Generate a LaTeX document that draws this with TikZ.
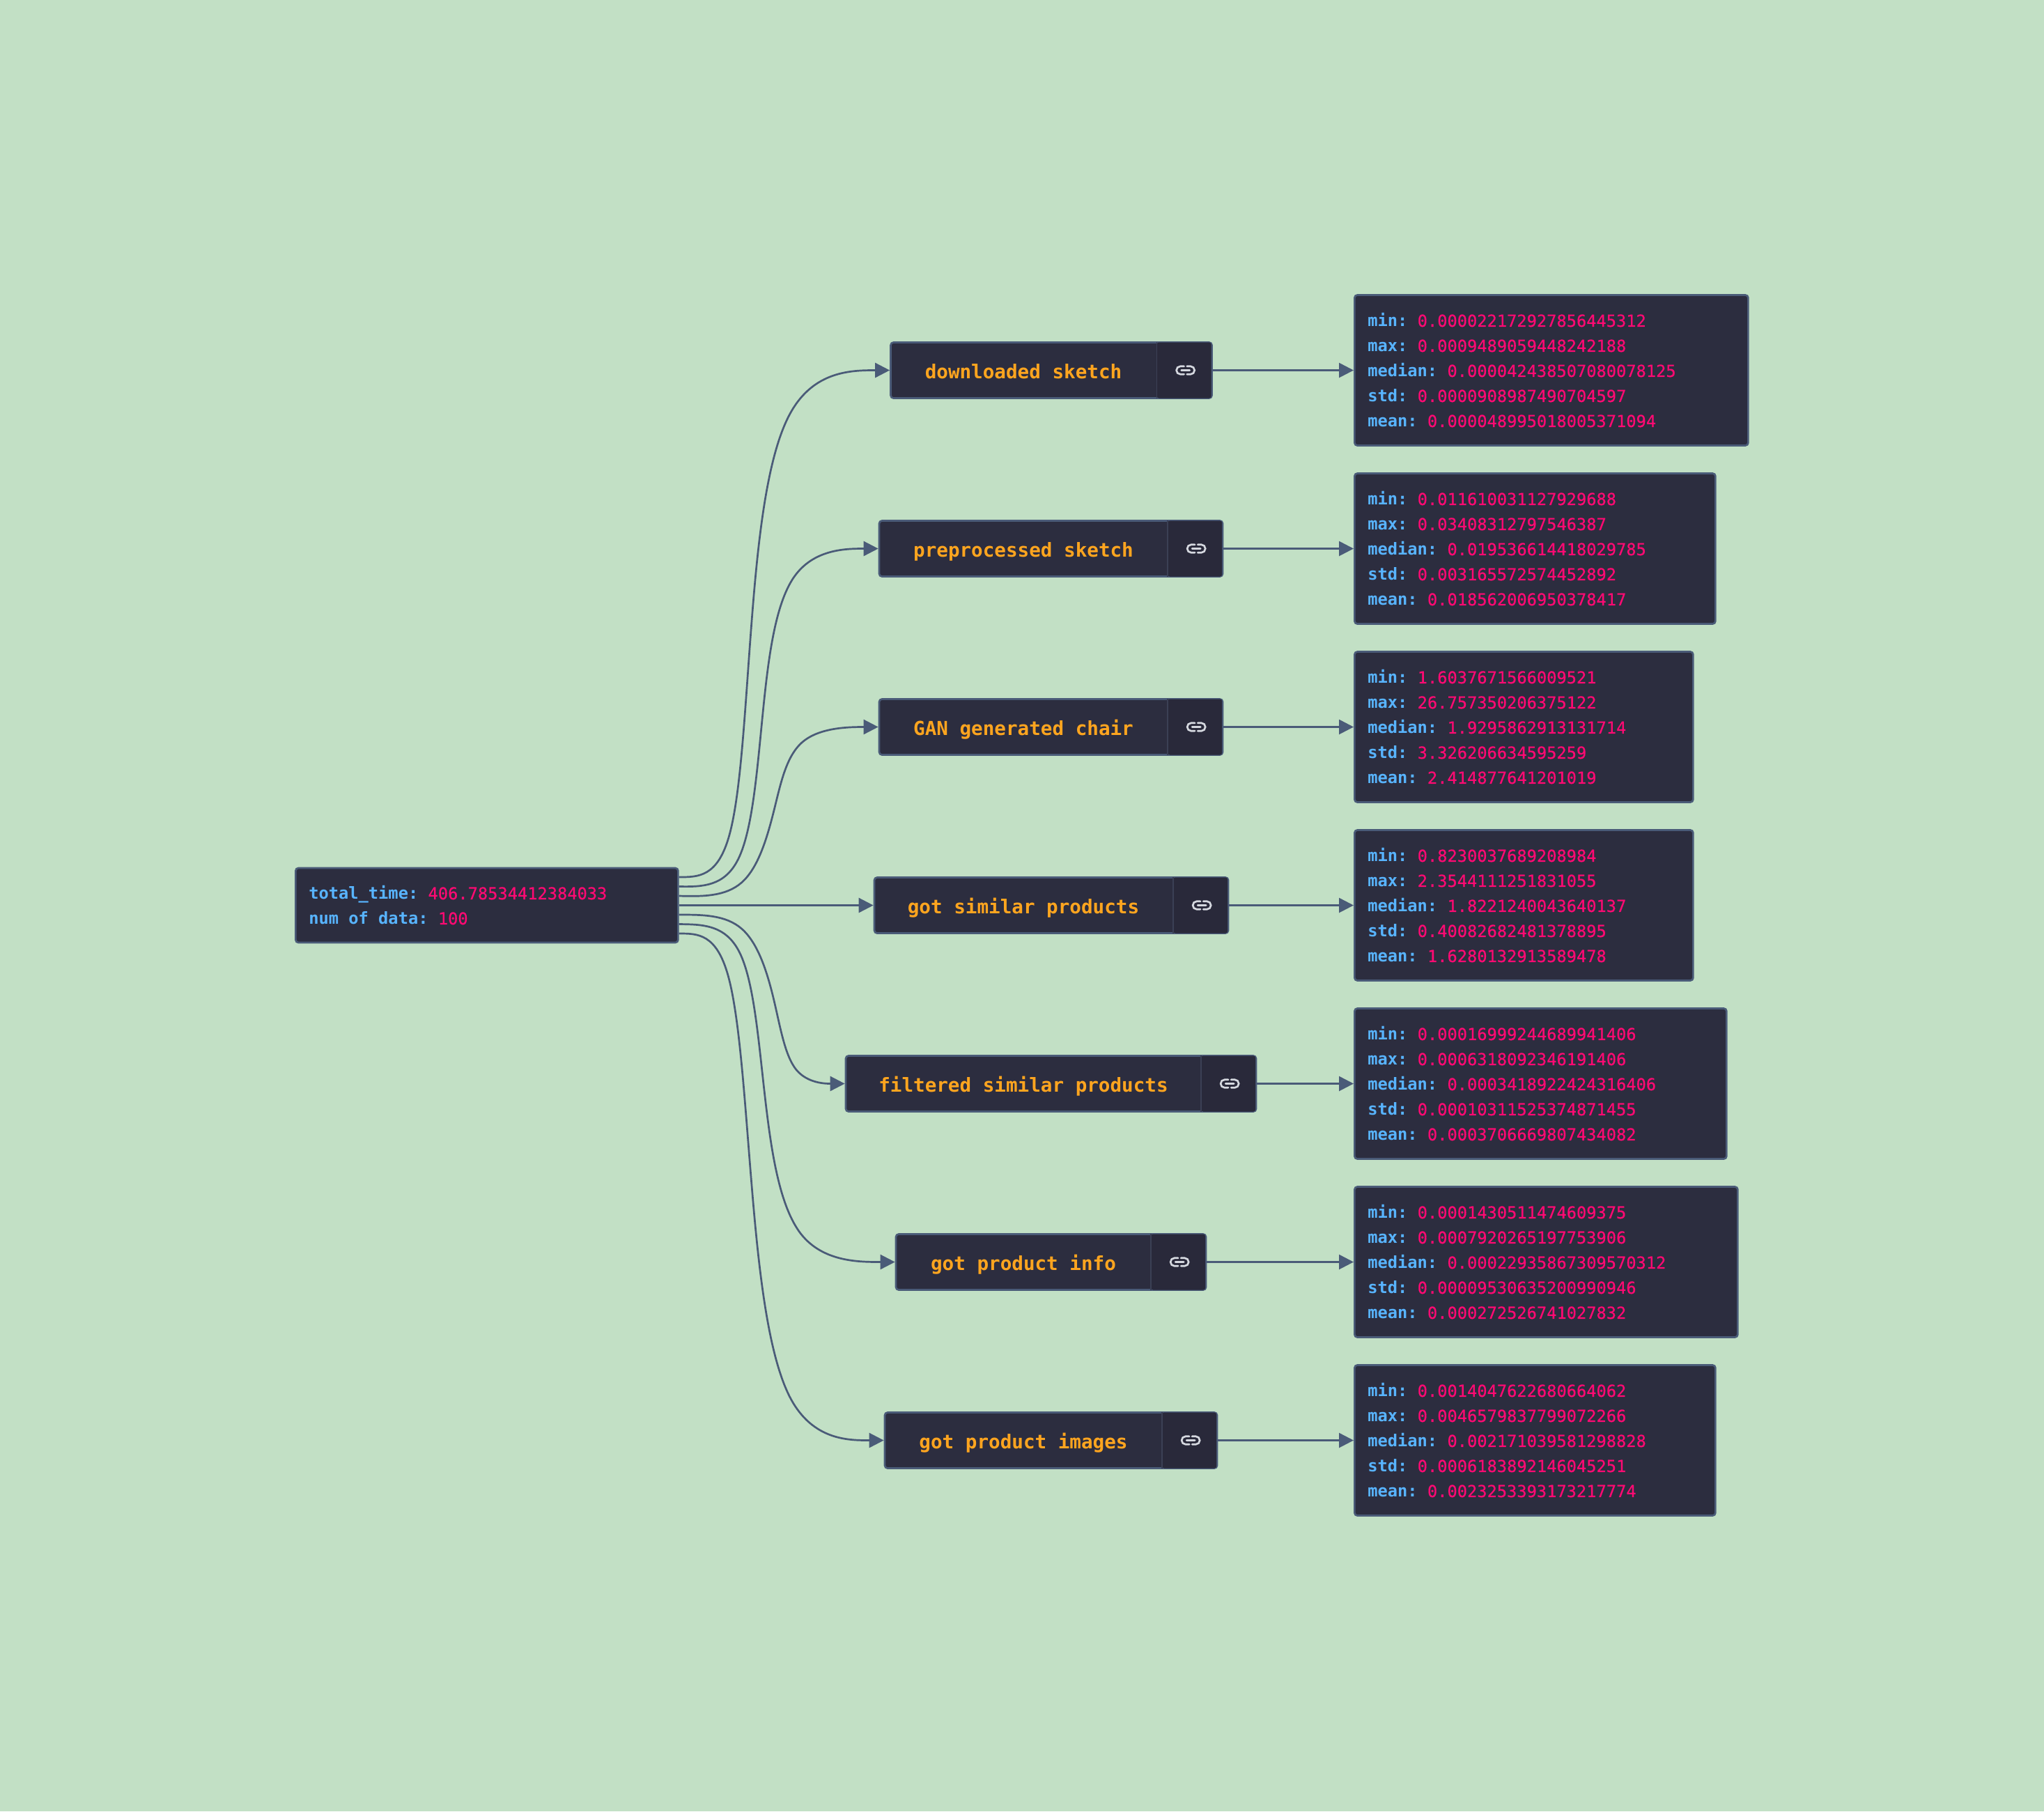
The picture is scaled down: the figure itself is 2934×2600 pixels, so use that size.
\documentclass[tikz,border=0pt]{standalone}
\usepackage{fontspec}
\setmainfont{DejaVu Sans Mono}
\newfontfamily\valuefont[FakeBold=0.4]{DejaVu Sans Mono}
\usetikzlibrary{arrows.meta}
\definecolor{canvas}{HTML}{C2E0C5}
\definecolor{panel}{HTML}{2C2D3F}
\definecolor{cellshade}{HTML}{29293A}
\definecolor{edgeline}{HTML}{4A5B78}
\definecolor{cellline}{HTML}{3B4055}
\definecolor{keyblue}{HTML}{58B4FF}
\definecolor{valuepink}{HTML}{FF0A73}
\definecolor{stageorange}{HTML}{FFA51F}
\definecolor{iconline}{HTML}{D5D8DF}
\newcommand{\statline}[2]{\spaceskip=.602em\xspaceskip=.602em{\bfseries\color{keyblue}#1:} {\valuefont\color{valuepink}#2}}
\tikzset{
	panelbox/.style={draw=edgeline, line width=2.7pt, fill=panel, rounded corners=4pt, inner sep=0pt},
	statbox/.style={panelbox, anchor=west, inner xsep=19pt, minimum height=216pt, align=left, font=\fontsize{23.7}{36}\selectfont},
	rootbox/.style={statbox, minimum height=107pt},
	stagebox/.style={panelbox, minimum height=80pt},
	stagetext/.style={text=stageorange, inner sep=0pt, anchor=base, font=\fontsize{27.6}{32}\selectfont\bfseries},
	stagelink/.style={anchor=east, xshift=-2pt, fill=cellshade, rounded corners=3pt, inner sep=0pt, minimum width=78pt, minimum height=80pt,
		path picture={
			\begin{scope}[shift={(path picture bounding box.center)}, draw=iconline, line width=2.7pt, line cap=round]
				\draw[rounded corners=5.6pt] (0,-5.7) -- (-11,-5.7) -- (-11,5.7) -- (0,5.7);
				\draw[rounded corners=5.6pt] (4,-5.7) -- (15,-5.7) -- (15,5.7) -- (4,5.7);
				\draw (-4,0) -- (8,0);
			\end{scope}
		}},
	stagedivider/.style={draw=cellline, line width=1.6pt},
	flow/.style={draw=edgeline, line width=2.7pt, -{Triangle[length=21pt, width=21pt]}}
}

\begin{document}
\begin{tikzpicture}[x=1pt, y=-1pt]
	% Canvas
	\fill[canvas] (0,0) rectangle (2934,2600);
	\useasboundingbox (0,0) rectangle (2934,2600);

	% Summary box
	\node[rootbox, text width=511pt] (root) at (423,1299.5) {\statline{total\_time}{406.78534412384033}\\\statline{num of data}{100}};

	% Stages
	\node[stagebox, minimum width=461pt] (sketch) at (1509,531.5) {};
	\node[stagetext] (sketchtext) at (1469,543.5) {downloaded sketch};
	\node[stagelink] (sketchlink) at (sketch.east) {};
	\draw[stagedivider] (sketchlink.north west) -- (sketchlink.south west);

	\node[stagebox, minimum width=493pt] (preprocessed) at (1508.5,787.5) {};
	\node[stagetext] (preprocessedtext) at (1469,799.5) {preprocessed sketch};
	\node[stagelink] (preprocessedlink) at (preprocessed.east) {};
	\draw[stagedivider] (preprocessedlink.north west) -- (preprocessedlink.south west);

	\node[stagebox, minimum width=493pt] (gan) at (1508.5,1043.5) {};
	\node[stagetext] (gantext) at (1469,1055.5) {GAN generated chair};
	\node[stagelink] (ganlink) at (gan.east) {};
	\draw[stagedivider] (ganlink.north west) -- (ganlink.south west);

	\node[stagebox, minimum width=508pt] (similar) at (1509,1299.5) {};
	\node[stagetext] (similartext) at (1469,1311.5) {got similar products};
	\node[stagelink] (similarlink) at (similar.east) {};
	\draw[stagedivider] (similarlink.north west) -- (similarlink.south west);

	\node[stagebox, minimum width=589pt] (filtered) at (1508.5,1555.5) {};
	\node[stagetext] (filteredtext) at (1469,1567.5) {filtered similar products};
	\node[stagelink] (filteredlink) at (filtered.east) {};
	\draw[stagedivider] (filteredlink.north west) -- (filteredlink.south west);

	\node[stagebox, minimum width=445pt] (info) at (1508.5,1811.5) {};
	\node[stagetext] (infotext) at (1469,1823.5) {got product info};
	\node[stagelink] (infolink) at (info.east) {};
	\draw[stagedivider] (infolink.north west) -- (infolink.south west);

	\node[stagebox, minimum width=477pt] (images) at (1508.5,2067.5) {};
	\node[stagetext] (imagestext) at (1469,2079.5) {got product images};
	\node[stagelink] (imageslink) at (images.east) {};
	\draw[stagedivider] (imageslink.north west) -- (imageslink.south west);

	% Timing boxes
	\node[statbox, text width=527pt] (sketchstats) at (1943,531.5) {\statline{min}{0.000022172927856445312}\\\statline{max}{0.0009489059448242188}\\\statline{median}{0.000042438507080078125}\\\statline{std}{0.0000908987490704597}\\\statline{mean}{0.000048995018005371094}};
	\node[statbox, text width=480pt] (preprocessedstats) at (1943,787.5) {\statline{min}{0.011610031127929688}\\\statline{max}{0.03408312797546387}\\\statline{median}{0.019536614418029785}\\\statline{std}{0.003165572574452892}\\\statline{mean}{0.018562006950378417}};
	\node[statbox, text width=448pt] (ganstats) at (1943,1043.5) {\statline{min}{1.6037671566009521}\\\statline{max}{26.757350206375122}\\\statline{median}{1.9295862913131714}\\\statline{std}{3.326206634595259}\\\statline{mean}{2.414877641201019}};
	\node[statbox, text width=448pt] (similarstats) at (1943,1299.5) {\statline{min}{0.8230037689208984}\\\statline{max}{2.3544111251831055}\\\statline{median}{1.8221240043640137}\\\statline{std}{0.40082682481378895}\\\statline{mean}{1.6280132913589478}};
	\node[statbox, text width=496pt] (filteredstats) at (1943,1555.5) {\statline{min}{0.00016999244689941406}\\\statline{max}{0.0006318092346191406}\\\statline{median}{0.0003418922424316406}\\\statline{std}{0.00010311525374871455}\\\statline{mean}{0.0003706669807434082}};
	\node[statbox, text width=512pt] (infostats) at (1943,1811.5) {\statline{min}{0.0001430511474609375}\\\statline{max}{0.0007920265197753906}\\\statline{median}{0.00022935867309570312}\\\statline{std}{0.00009530635200990946}\\\statline{mean}{0.000272526741027832}};
	\node[statbox, text width=480pt] (imagesstats) at (1943,2067.5) {\statline{min}{0.0014047622680664062}\\\statline{max}{0.0046579837799072266}\\\statline{median}{0.002171039581298828}\\\statline{std}{0.0006183892146045251}\\\statline{mean}{0.0023253393173217774}};

	% Summary to stages
	\draw[flow] ([yshift=40.5pt]root.east) .. controls (1002.7,1259) and (1030.3,1259) .. (1047,1198.4) .. controls (1063.7,1137.8) and (1069.3,1016.7) .. (1078.7,895.5) .. controls (1088,774.3) and (1101,653.2) .. (1134.7,592.6) .. controls (1168.3,532) and (1222.7,531.5) .. (sketch.west);
	\draw[flow] ([yshift=27pt]root.east) .. controls (1007.7,1273) and (1040.3,1273) .. (1060,1232.5) .. controls (1079.7,1192) and (1086.3,1111) .. (1094.3,1030.2) .. controls (1102.3,949.3) and (1111.7,868.7) .. (1139.7,828.3) .. controls (1167.7,788) and (1214.3,787.5) .. (preprocessed.west);
	\draw[flow] ([yshift=13.5pt]root.east) .. controls (1008.3,1287) and (1041.7,1287) .. (1064.7,1266.7) .. controls (1087.7,1246.3) and (1100.3,1205.7) .. (1110.5,1165.2) .. controls (1120.7,1124.7) and (1128.3,1084.3) .. (1153,1064.2) .. controls (1177.7,1044) and (1219.3,1043.5) .. (gan.west);
	\draw[flow] (root.east) -- (similar.west);
	\draw[flow] ([yshift=-13.5pt]root.east) .. controls (1008.3,1313) and (1041.7,1313) .. (1064.8,1333.3) .. controls (1088,1353.7) and (1101,1394.3) .. (1110.7,1434.8) .. controls (1120.3,1475.3) and (1126.7,1515.7) .. (1143.2,1535.8) .. controls (1159.7,1555.5) and (1186.3,1555.5) .. (filtered.west);
	\draw[flow] ([yshift=-27pt]root.east) .. controls (1008.3,1327) and (1041.7,1327) .. (1061.7,1367.4) .. controls (1081.7,1407.8) and (1088.3,1488.7) .. (1097.5,1569.5) .. controls (1106.7,1650.3) and (1118.3,1731.2) .. (1150,1771.6) .. controls (1181.7,1811.5) and (1233.3,1811.5) .. (info.west);
	\draw[flow] ([yshift=-40.5pt]root.east) .. controls (1001.7,1340) and (1028.3,1340) .. (1045.2,1400.7) .. controls (1062,1461.3) and (1069,1582.7) .. (1079.2,1704) .. controls (1089.3,1825.3) and (1102.7,1946.7) .. (1134.8,2007.3) .. controls (1167,2067.5) and (1218,2067.5) .. (images.west);

	% Stages to timing boxes
	\draw[flow] (sketch.east) -- (sketchstats.west);
	\draw[flow] (preprocessed.east) -- (preprocessedstats.west);
	\draw[flow] (gan.east) -- (ganstats.west);
	\draw[flow] (similar.east) -- (similarstats.west);
	\draw[flow] (filtered.east) -- (filteredstats.west);
	\draw[flow] (info.east) -- (infostats.west);
	\draw[flow] (images.east) -- (imagesstats.west);
\end{tikzpicture}
\end{document}
